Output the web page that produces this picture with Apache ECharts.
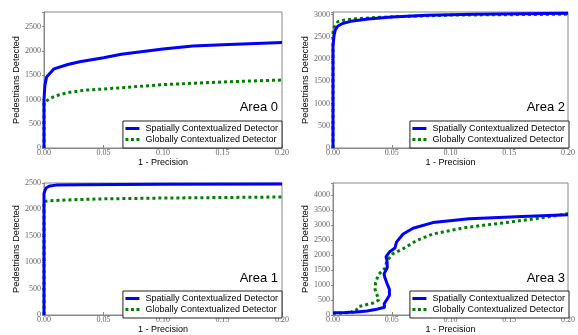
<!DOCTYPE html>
<html>
<head>
<meta charset="utf-8">
<script src="https://cdn.jsdelivr.net/npm/echarts@6/dist/echarts.min.js"></script>
<style>html,body{margin:0;padding:0;background:#fff;}#c{width:578px;height:335px;}</style>
</head>
<body>
<div id="c"></div>
<script>
// ---- data: [1 - precision, pedestrians detected] ----
const seriesNames = ['Spatially Contextualized Detector', 'Globally Contextualized Detector'];
const areaLabels = ['Area 0', 'Area 2', 'Area 1', 'Area 3'];
const xTicks = [0, 0.05, 0.10, 0.15, 0.20];
const yMaxes = [2800, 3060, 2500, 4400];

const area0Spatial = [[0,0],[0,1000],[0.0008,1300],[0.0022,1460],[0.0084,1630],[0.02,1720],[0.03,1775],[0.05,1860],[0.065,1930],[0.1,2040],[0.125,2100],[0.15,2125],[0.2,2170]];
const area0Global  = [[0,0],[0,930],[0.001,960],[0.005,1020],[0.01,1075],[0.02,1140],[0.034,1190],[0.05,1215],[0.065,1240],[0.1,1305],[0.15,1360],[0.2,1400]];

const area2Spatial = [[0,0],[0,2300],[0.001,2550],[0.002,2660],[0.004,2740],[0.008,2800],[0.015,2850],[0.03,2900],[0.05,2950],[0.08,2985],[0.12,3010],[0.2,3030]];
const area2Global  = [[0,0],[0,2600],[0.001,2720],[0.004,2840],[0.01,2880],[0.02,2910],[0.04,2940],[0.06,2960],[0.1,2990],[0.15,3000],[0.2,3010]];

const area1Spatial = [[0,0],[0,2300],[0.001,2370],[0.002,2410],[0.005,2445],[0.01,2460],[0.03,2468],[0.1,2475],[0.2,2480]];
const area1Global  = [[0,0],[0,2150],[0.005,2165],[0.02,2180],[0.05,2200],[0.1,2215],[0.2,2235]];

const area3Spatial = [[0,75],[0.01,80],[0.02,100],[0.029,130],[0.036,180],[0.044,260],[0.0435,370],[0.045,420],[0.048,650],[0.048,860],[0.046,1050],[0.0442,1240],[0.0434,1370],[0.0462,1580],[0.0459,1830],[0.0451,1940],[0.048,2100],[0.0527,2230],[0.054,2430],[0.0597,2700],[0.0681,2890],[0.085,3080],[0.116,3210],[0.161,3280],[0.2,3340]];
const area3Global  = [[0,50],[0.012,75],[0.0146,130],[0.017,90],[0.019,110],[0.0217,280],[0.028,340],[0.0343,400],[0.039,500],[0.0372,700],[0.0358,850],[0.0362,1073],[0.0386,1343],[0.0442,1560],[0.0462,1830],[0.0512,2050],[0.0597,2210],[0.071,2480],[0.085,2700],[0.1133,2920],[0.147,3080],[0.178,3240],[0.2,3380]];

const spatialData = [area0Spatial, area2Spatial, area1Spatial, area3Spatial];
const globalData  = [area0Global, area2Global, area1Global, area3Global];

// ---- layout ----
const W = 578, H = 335;
const panels = [
  {left: 44, width: 238, top: 12, height: 136},
  {left: 333, width: 236, top: 12, height: 136},
  {left: 44, width: 238, top: 183, height: 135},
  {left: 333, width: 236, top: 183, height: 135}
];
const axisGray = '#888';
const serif = '"Liberation Serif", "DejaVu Serif", serif';
const sans = '"Liberation Sans", Arial, sans-serif';
const solidIcon = 'path://M0,0h14v3h-14z';
const dotIcon = 'path://M0,0h3v3h-3zM5.5,0h3v3h-3zM11,0h3v3h-3z';

const grid = [], xAxis = [], yAxis = [], series = [], legend = [], title = [];
panels.forEach((p, i) => {
  grid.push({left: p.left, top: p.top, width: p.width, height: p.height, show: true, borderColor: axisGray, borderWidth: 1, backgroundColor: 'transparent'});
  xAxis.push({
    type: 'value', gridIndex: i, min: xTicks[0], max: xTicks[xTicks.length - 1], interval: 0.05,
    name: '1 - Precision', nameLocation: 'middle', nameGap: 10,
    nameTextStyle: {fontFamily: sans, fontSize: 9, color: '#000'},
    axisLine: {lineStyle: {color: axisGray, width: 1}},
    axisTick: {show: true, inside: true, length: 3, lineStyle: {color: axisGray}},
    axisLabel: {fontFamily: serif, fontSize: 8, color: '#666', margin: 1, formatter: v => v.toFixed(2)},
    splitLine: {show: false}
  });
  yAxis.push({
    type: 'value', gridIndex: i, min: 0, max: yMaxes[i], interval: 500,
    name: 'Pedestrians Detected', nameLocation: 'middle', nameGap: 19,
    nameTextStyle: {fontFamily: sans, fontSize: 9.2, color: '#000'},
    axisLine: {lineStyle: {color: axisGray, width: 1}},
    axisTick: {show: true, inside: false, length: 2, lineStyle: {color: axisGray}},
    axisLabel: {fontFamily: serif, fontSize: 8, color: '#666', margin: 3, formatter: v => (v % 500 === 0 ? String(v) : '')},
    splitLine: {show: false}
  });
  series.push({
    name: seriesNames[0], type: 'line', xAxisIndex: i, yAxisIndex: i, data: spatialData[i],
    showSymbol: false, symbol: 'none', smooth: false, z: 3,
    lineStyle: {color: '#0000ff', width: 3}, itemStyle: {color: '#0000ff'}
  });
  series.push({
    name: seriesNames[1], type: 'line', xAxisIndex: i, yAxisIndex: i, data: globalData[i],
    showSymbol: false, symbol: 'none', smooth: false, z: 2,
    lineStyle: {color: '#008000', width: 3, type: [3, 3], cap: 'butt'}, itemStyle: {color: '#008000'}
  });
  legend.push({
    data: [
      {name: seriesNames[0], icon: solidIcon, itemStyle: {color: '#0000ff', borderWidth: 0}},
      {name: seriesNames[1], icon: dotIcon, itemStyle: {color: '#008000', borderWidth: 0}}
    ],
    orient: 'vertical',
    right: W - (p.left + p.width), bottom: H - (p.top + p.height),
    itemWidth: 14, itemHeight: 3, itemGap: 2,
    padding: [3, 4, 4, 2.5],
    borderColor: '#222', borderWidth: 1, backgroundColor: '#fff', borderRadius: 0,
    textStyle: {fontFamily: sans, fontSize: 9, color: '#000', padding: [0, 0, 0, 1]},
    selectedMode: false
  });
  title.push({
    text: areaLabels[i], right: W - (p.left + p.width) + 4, top: p.top + 89, padding: 0,
    textStyle: {fontFamily: sans, fontSize: 13, fontWeight: 'normal', color: '#000'}
  });
});

const chart = echarts.init(document.getElementById('c'), null, {renderer: 'canvas'});
chart.setOption({animation: false, backgroundColor: '#fff', grid, xAxis, yAxis, series, legend, title});
</script>
</body>
</html>
